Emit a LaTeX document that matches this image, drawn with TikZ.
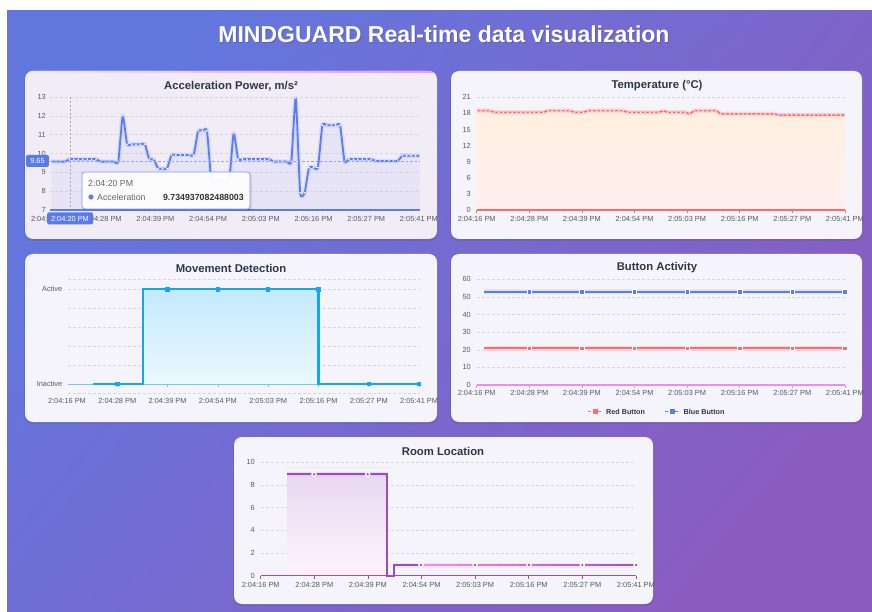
\documentclass[tikz,border=0pt]{standalone}
\usepackage{fontspec}
\setmainfont{Liberation Sans}
\usetikzlibrary{calc}
\definecolor{bgA}{HTML}{6277DE}
\definecolor{bgB}{HTML}{8A5CC0}
\definecolor{panelbg}{HTML}{F5F4FA}
\definecolor{panelbgA}{HTML}{F2ECF7}
\definecolor{ttl}{HTML}{2D3748}
\definecolor{tickc}{HTML}{555B66}
\definecolor{gridc}{HTML}{D6D6E2}
\definecolor{accblue}{HTML}{5B7CF2}
\definecolor{tempred}{HTML}{FF6B6B}
\definecolor{movblue}{HTML}{10A8F4}
\definecolor{roompurple}{HTML}{9A4EBE}
\definecolor{roompink}{HTML}{F58AEE}
\definecolor{axpink}{HTML}{F58BE8}
\definecolor{tipblue}{HTML}{5A7AE6}
\definecolor{topborder}{HTML}{F093FB}

\tikzset{
  panelbox/.style={fill=panelbg, rounded corners=8pt},
  panelshadow/.style={fill=black, opacity=0.07, rounded corners=9pt},
  charttitle/.style={font=\bfseries\fontsize{11.3}{13}\selectfont, text=ttl, inner sep=0pt},
  ticklbl/.style={font=\fontsize{7.4}{9}\selectfont, text=tickc, inner sep=0pt},
  gridline/.style={draw=gridc, dash pattern=on 2.5pt off 2.5pt, line width=0.5pt},
  whitelbl/.style={font=\fontsize{7.4}{9}\selectfont, text=white, inner sep=0pt},
  tiptext/.style={font=\fontsize{8.8}{10}\selectfont, text=black!60, inner sep=0pt},
}

\def\xlabels{0/2:04:16 PM,1/2:04:28 PM,2/2:04:39 PM,3/2:04:54 PM,4/2:05:03 PM,5/2:05:16 PM,6/2:05:27 PM,7/2:05:41 PM}

\def\accvals{9.57,9.57,9.57,9.57,9.70,9.70,9.70,9.70,9.70,9.70,9.70,9.57,9.57,9.57,9.57,9.57,12.0,10.49,10.49,10.49,10.49,10.49,9.70,9.70,9.2,9.2,9.2,9.92,9.92,9.92,9.92,9.92,9.92,11.2,11.2,11.2,8.5,8.5,8.5,8.5,8.5,11.07,9.70,9.70,9.70,9.70,9.70,9.70,9.70,9.70,9.57,9.57,9.57,9.57,9.57,12.96,7.92,7.92,9.25,9.25,9.25,11.5,11.5,11.5,11.5,11.5,9.57,9.70,9.70,9.70,9.70,9.70,9.70,9.6,9.6,9.6,9.6,9.6,9.6,9.88,9.88,9.88,9.88,9.88}

\def\tempvals{18.5,18.5,18.5,18.5,18.2,18.2,18.2,18.2,18.2,18.2,18.2,18.2,18.2,18.2,18.2,18.2,18.5,18.5,18.5,18.5,18.5,18.5,18.2,18.2,18.2,18.5,18.5,18.5,18.5,18.5,18.5,18.5,18.5,18.5,18.2,18.2,18.2,18.2,18.2,18.2,18.2,18.2,18.5,18.2,18.2,18.2,18.2,18.2,17.9,18.5,18.5,18.5,18.5,18.5,18.5,17.9,17.9,17.9,17.9,17.9,17.9,17.9,17.9,17.9,17.9,17.9,17.9,17.9,17.7,17.7,17.7,17.7,17.7,17.7,17.7,17.7,17.7,17.7,17.7,17.7,17.7,17.7,17.7,17.7}

\begin{document}
\begin{tikzpicture}[x=1pt,y=-1pt]
\useasboundingbox (0,0) rectangle (872,612);
\fill[white] (0,0) rectangle (872,612);
\shade[top color=bgA, bottom color=bgB, shading angle=50] (7,11) rectangle (872,612);

% ---------- main title
\node[font=\bfseries\fontsize{23}{27}\selectfont, text=black, opacity=0.15] (titleshadow) at (445,35.5) {MINDGUARD Real-time data visualization};
\node[font=\bfseries\fontsize{23}{27}\selectfont, text=white] (title) at (444,34) {MINDGUARD Real-time data visualization};

% ---------- panel shadows
\fill[panelshadow] (24,72) rectangle (438,241);
\fill[panelshadow] (450,72) rectangle (863,241);
\fill[panelshadow] (24,255) rectangle (438,424);
\fill[panelshadow] (450,255) rectangle (863,424);
\fill[panelshadow] (233,438) rectangle (654,606);

% =====================================================================
% PANEL 1 : Acceleration
\fill[panelbgA, rounded corners=8pt] (25,71) rectangle (437,239);
\begin{scope}
  \clip[rounded corners=8pt] (25,71) rectangle (437,239);
  \shade[left color=panelbgA, middle color=bgB, right color=topborder] (25,71) rectangle (437,73);
\end{scope}
\node[charttitle] (acctitle) at (231,86) {Acceleration Power, m/s²};
\foreach \v in {8,...,13} {\draw[gridline] (50,{97+(13-\v)*18.83}) -- (420,{97+(13-\v)*18.83});}
\foreach \v in {7,...,13} {\node[ticklbl, anchor=east] (ay\v) at (46,{97+(13-\v)*18.83}) {\v};}

\def\acclist{}
\foreach \v [count=\i from 0] in \accvals {
  \pgfmathsetmacro\xx{51.7+\i*4.437}
  \pgfmathsetmacro\yy{97+(13-\v)*18.83}
  \xdef\acclist{\acclist (\xx,\yy)}
}
\edef\tmp{\noexpand\fill[accblue, opacity=0.07] (51.7,210) -- plot[smooth, tension=0.3] coordinates {\acclist} -- (420,210) -- cycle;}\tmp
\edef\tmp{\noexpand\draw[accblue!40, line width=4.5pt, opacity=0.45, line join=round] plot[smooth, tension=0.3] coordinates {\acclist};}\tmp
\edef\tmp{\noexpand\draw[accblue, line width=1.8pt, line join=round] plot[smooth, tension=0.3] coordinates {\acclist};}\tmp
\foreach \v [count=\i from 0] in \accvals {
  \fill[white] ({51.7+\i*4.437},{97+(13-\v)*18.83}) circle (0.95pt);
}
% crosshair
\draw[black!35, dash pattern=on 2pt off 2pt, line width=0.6pt] (70.7,97) -- (70.7,210);
\draw[tipblue!70, dash pattern=on 2.5pt off 2pt, line width=0.6pt] (50,161) -- (420,161);
% axis
\draw[accblue, line width=1.2pt] (50,210) -- (420,210);
\begin{scope}
  \clip[rounded corners=8pt] (25,71) rectangle (437,239);
  \foreach \k/\t in \xlabels {\node[ticklbl] (ax\k) at ({50+\k*52.7},218.5) {\t};}
\end{scope}
% axis pointer labels
\fill[tipblue, rounded corners=1.5pt] (26,155) rectangle (49,167);
\node[whitelbl] (ptry) at (37.5,161) {9.65};
\fill[tipblue, rounded corners=1.5pt] (47,212.5) rectangle (93,224.5);
\node[whitelbl] (ptrx) at (70,218.5) {2:04:20 PM};
% tooltip
\fill[black, opacity=0.08, rounded corners=3pt] (83,173.5) rectangle (252,211);
\fill[white, opacity=0.95, rounded corners=3pt] (82,172) rectangle (250,209);
\draw[accblue!80, line width=0.7pt, rounded corners=3pt] (82,172) rectangle (250,209);
\node[tiptext, anchor=west] (tiptime) at (88,183.5) {2:04:20 PM};
\fill[accblue] (91,197) circle (2.6pt);
\node[tiptext, anchor=west] (tipname) at (97,197) {Acceleration};
\node[tiptext, anchor=east, font=\bfseries\fontsize{8.8}{10}\selectfont, text=black!80] (tipval) at (244,197) {9.734937082488003};

% =====================================================================
% PANEL 2 : Temperature
\fill[panelbox] (451,71) rectangle (862,239);
\node[charttitle] (temptitle) at (657,86) {Temperature (°C)};
\foreach \v in {3,6,...,21} {\draw[gridline] (477,{210-\v*5.367}) -- (845,{210-\v*5.367});}
\foreach \v in {0,3,...,21} {\node[ticklbl, anchor=east] (ty\v) at (471,{210-\v*5.367}) {\v};}
\def\templist{}
\foreach \v [count=\i from 0] in \tempvals {
  \pgfmathsetmacro\xx{476.7+\i*4.437}
  \pgfmathsetmacro\yy{210-\v*5.367}
  \xdef\templist{\templist (\xx,\yy)}
}
\edef\tmp{\noexpand\shade[top color=orange!12!white, bottom color=red!6!white] (476.7,210) -- plot coordinates {\templist} -- (845,210) -- cycle;}\tmp
\edef\tmp{\noexpand\draw[tempred!45, line width=4.5pt, opacity=0.45, line join=round] plot coordinates {\templist};}\tmp
\edef\tmp{\noexpand\draw[tempred, line width=1.5pt, line join=round] plot coordinates {\templist};}\tmp
\foreach \v [count=\i from 0] in \tempvals {
  \fill[white] ({476.7+\i*4.437},{210-\v*5.367}) circle (0.85pt);
}
\draw[tempred, line width=1.2pt] (476.7,210) -- (845,210);
\foreach \k in {0,...,7} {\draw[tempred, line width=0.8pt] ({476.7+\k*52.6},210) -- ({476.7+\k*52.6},213);}
\begin{scope}
  \clip[rounded corners=8pt] (451,71) rectangle (862,239);
  \foreach \k/\t in \xlabels {\node[ticklbl] (tx\k) at ({476.7+\k*52.6},218.5) {\t};}
\end{scope}

% =====================================================================
% PANEL 3 : Movement Detection
\fill[panelbox] (25,254) rectangle (437,422);
\node[charttitle] (movtitle) at (231,268) {Movement Detection};
\foreach \y in {279.3,289.3,308.3,327.3,346,365,393.3} {\draw[gridline] (68,\y) -- (420,\y);}
\node[ticklbl, anchor=east, font=\fontsize{7.4}{9}\selectfont] (mactive) at (62.5,289.3) {Active};
\node[ticklbl, anchor=east, font=\fontsize{7.4}{9}\selectfont] (minactive) at (62.5,384) {Inactive};
\shade[top color=movblue!25!white, bottom color=movblue!8!white] (143.3,289.3) rectangle (318.5,384);
\draw[movblue!60, line width=1pt] (68,384) -- (420,384);
\foreach \k in {1,...,7} {\draw[movblue!60, line width=0.8pt] ({67+\k*50.3},384) -- ({67+\k*50.3},387);}
\draw[movblue, line width=2.2pt, line join=miter] (93.3,384) -- (143.3,384) -- (143.3,289.3) -- (318.5,289.3) -- (318.5,384) -- (419.5,384);
\foreach \x/\y in {117.3/384,167.6/289.3,217.9/289.3,268.2/289.3,318.5/289.3,368.8/384,419.1/384} {\fill[movblue] (\x-2.2,\y-2.2) rectangle (\x+2.2,\y+2.2);}
\foreach \k/\t in \xlabels {\node[ticklbl] (mx\k) at ({67+\k*50.3},400.7) {\t};}

% =====================================================================
% PANEL 4 : Button Activity
\fill[panelbox] (451,254) rectangle (862,422);
\node[charttitle] (btntitle) at (657,268) {Button Activity};
\foreach \v in {10,20,...,60} {\draw[gridline] (477,{385-\v*1.7617}) -- (845,{385-\v*1.7617});}
\foreach \v in {0,10,...,60} {\node[ticklbl, anchor=east] (by\v) at (471,{385-\v*1.7617}) {\v};}
\draw[axpink, line width=1.2pt] (476.7,385) -- (845,385);
\foreach \k in {0,...,7} {\draw[axpink, line width=0.8pt] ({476.7+\k*52.6},385) -- ({476.7+\k*52.6},388);}
% blue
\draw[accblue!40, line width=5pt, opacity=0.4] (484.3,291.6) -- (845,291.6);
\draw[accblue, line width=1.8pt] (484.3,291.6) -- (845,291.6);
% red
\draw[tempred!45, line width=5pt, opacity=0.4] (484.3,348) -- (845,348);
\draw[tempred, line width=1.8pt] (484.3,348) -- (845,348);
\foreach \k in {1,...,7} {
  \fill[accblue, draw=white, line width=0.5pt] ({476.7+\k*52.6-2.2},289.4) rectangle ({476.7+\k*52.6+2.2},293.8);
  \fill[tempred, draw=white, line width=0.5pt] ({476.7+\k*52.6-2.2},345.8) rectangle ({476.7+\k*52.6+2.2},350.2);
}
\foreach \k/\t in \xlabels {\node[ticklbl] (bx\k) at ({476.7+\k*52.6},392.7) {\t};}
% legend
\draw[tempred, line width=1pt, dash pattern=on 3pt off 2pt] (588,411.7) -- (602,411.7);
\fill[tempred] (592.5,409.2) rectangle (597.5,414.2);
\node[ticklbl, anchor=west, font=\bfseries\fontsize{7.2}{9}\selectfont, text=ttl] (legred) at (606,411.7) {Red Button};
\draw[accblue, line width=1pt, dash pattern=on 3pt off 2pt] (665,411.7) -- (680,411.7);
\fill[accblue] (670,409.2) rectangle (675,414.2);
\node[ticklbl, anchor=west, font=\bfseries\fontsize{7.2}{9}\selectfont, text=ttl] (legblue) at (683.5,411.7) {Blue Button};

% =====================================================================
% PANEL 5 : Room Location
\fill[panelbox] (234,437) rectangle (653,604);
\node[charttitle] (roomtitle) at (443,451.7) {Room Location};
\foreach \v in {2,4,...,10} {\draw[gridline] (261,{575.7-\v*11.34}) -- (636,{575.7-\v*11.34});}
\foreach \v in {0,2,...,10} {\node[ticklbl, anchor=east] (ry\v) at (255,{575.7-\v*11.34}) {\v};}
\draw[roompurple!15, line width=0.6pt] (284,467.7) -- (393,467.7);
\shade[top color=roompurple!22!white, bottom color=roompink!10!white] (287.3,474.3) rectangle (387.3,575.7);
\draw[roompurple, line width=1.2pt] (260.7,575.7) -- (636,575.7);
\foreach \k in {0,...,7} {\draw[roompurple, line width=0.8pt] ({260.7+\k*53.6},575.7) -- ({260.7+\k*53.6},578.7);}
\draw[roompurple!40, line width=5pt, opacity=0.35] (287.3,474.3) -- (387.3,474.3);
\draw[roompurple!30, line width=5pt, opacity=0.35] (394,565) -- (636,565);
\draw[roompurple, line width=2.2pt] (287.3,474.3) -- (387.3,474.3) -- (387.3,575.7) -- (394,575.7) -- (394,565) -- (420,565);
\foreach \j in {0,...,10} {
  \pgfmathsetmacro\pct{100-\j*9}
  \draw[roompink!\pct!roompurple, line width=2.2pt] ({420+\j*19.6},565) -- ({420+(\j+1)*19.6+0.5},565);
}
\foreach \x/\y in {314/474.3,367.7/474.3,421/565,475/565,529/565,582.3/565,636/565} {
  \fill[white] (\x,\y) circle (2.8pt);
  \fill[roompurple] (\x,\y) circle (1.3pt);
}
\begin{scope}
  \clip[rounded corners=8pt] (234,437) rectangle (653,604);
  \foreach \k/\t in \xlabels {\node[ticklbl] (rx\k) at ({260.7+\k*53.6},584.5) {\t};}
\end{scope}
\end{tikzpicture}
\end{document}
